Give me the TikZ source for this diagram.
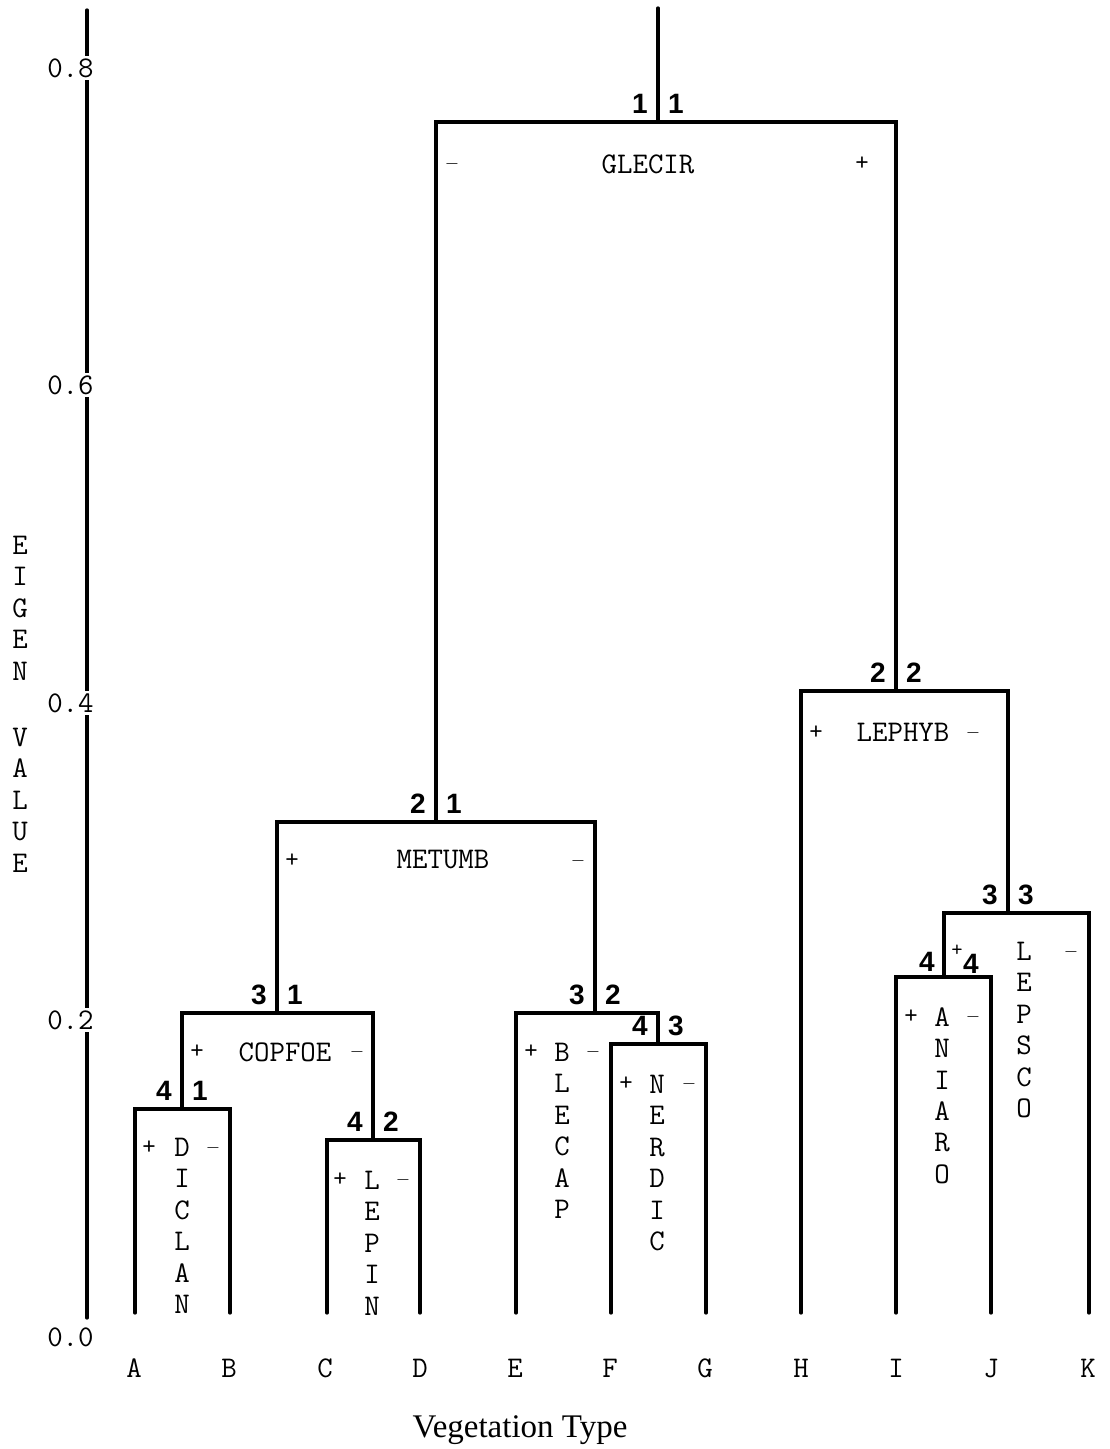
\documentclass[tikz,border=0pt]{standalone}
\usepackage{fontspec}
\newfontfamily\rankfont{Liberation Sans}
\newfontfamily\titlefont{Liberation Serif}

\tikzset{
  link/.style={line width=1.6pt, line cap=round},
  word/.style={font=\ttfamily\fontsize{15}{18}\selectfont, inner sep=0pt},
  sign/.style={font=\ttfamily\fontsize{13}{15}\selectfont, inner sep=0pt},
  rank/.style={font=\rankfont\bfseries\fontsize{14}{16}\selectfont, inner sep=0pt},
}
\newcommand{\minussign}{\fontsize{9}{11}\selectfont$-$}

% species code written downwards, one letter per line
\newcommand{\vcode}[4]{%
  \foreach \c [count=\i from 0] in {#4}
    \node[word] (#1-\i) at (#2,{#3+31.5*\i}) {\c};}

% pair of division numbers over a junction
\newcommand{\divnum}[5]{%
  \node[rank] (#1-l) at (#2-18,#3-18) {#4};
  \node[rank] (#1-r) at (#2+18,#3-18) {#5};}

\begin{document}
\begin{tikzpicture}[x=0.5pt, y=-0.5pt]
    \useasboundingbox (0,0) rectangle (1109,1449);

    % Axis
    \draw[link] (87,10) -- (87,1318);
    \foreach \v/\y [count=\i] in {0.8/68, 0.6/385, 0.4/703, 0.2/1020, 0.0/1337}
        \node[word, anchor=east, fill=white, inner sep=1pt] (tick-\i) at (96,\y) {\v};
    \vcode{eigen}{20}{545}{E,I,G,E,N}
    \vcode{value}{20}{737}{V,A,L,U,E}

    % Root: GLECIR
    \draw[link] (658,8) -- (658,122);
    \draw[link] (436,822) -- (436,122) -- (896,122) -- (896,691);
    \divnum{glecir}{658}{122}{1}{1}
    \node[sign] (glecir-m) at (452,164) {\minussign};
    \node[word] (glecir) at (648,164) {GLECIR};
    \node[sign] (glecir-p) at (862,164) {+};

    % METUMB
    \draw[link] (277,1013) -- (277,822) -- (595,822) -- (595,1013);
    \divnum{metumb}{436}{822}{2}{1}
    \node[sign] (metumb-p) at (292,861) {+};
    \node[word] (metumb) at (443,860) {METUMB};
    \node[sign] (metumb-m) at (578,861) {\minussign};

    % LEPHYB
    \draw[link] (801,1313) -- (801,691) -- (1008,691) -- (1008,913);
    \divnum{lephyb}{896}{691}{2}{2}
    \node[sign] (lephyb-p) at (816,733) {+};
    \node[word] (lephyb) at (903,732) {LEPHYB};
    \node[sign] (lephyb-m) at (973,733) {\minussign};

    % COPFOE
    \draw[link] (182,1109) -- (182,1013) -- (373,1013) -- (373,1140);
    \divnum{copfoe}{277}{1013}{3}{1}
    \node[sign] (copfoe-p) at (197,1052) {+};
    \node[word] (copfoe) at (285,1052) {COPFOE};
    \node[sign] (copfoe-m) at (357,1052) {\minussign};

    % DICLAN
    \draw[link] (135,1313) -- (135,1109) -- (230,1109) -- (230,1313);
    \divnum{diclan}{182}{1109}{4}{1}
    \node[sign] (diclan-p) at (149,1148) {+};
    \vcode{diclan}{182}{1147}{D,I,C,L,A,N}
    \node[sign] (diclan-m) at (213,1148) {\minussign};

    % LEPIN
    \draw[link] (327,1313) -- (327,1140) -- (420,1140) -- (420,1313);
    \divnum{lepin}{373}{1140}{4}{2}
    \node[sign] (lepin-p) at (340,1180) {+};
    \vcode{lepin}{372}{1180}{L,E,P,I,N}
    \node[sign] (lepin-m) at (403,1180) {\minussign};

    % BLECAP
    \draw[link] (516,1313) -- (516,1013) -- (658,1013) -- (658,1044);
    \divnum{blecap}{595}{1013}{3}{2}
    \node[sign] (blecap-p) at (531,1052) {+};
    \vcode{blecap}{562}{1052}{B,L,E,C,A,P}
    \node[sign] (blecap-m) at (593,1052) {\minussign};

    % NERDIC
    \draw[link] (611,1313) -- (611,1044) -- (706,1044) -- (706,1313);
    \divnum{nerdic}{658}{1044}{4}{3}
    \node[sign] (nerdic-p) at (626,1084) {+};
    \vcode{nerdic}{657}{1084}{N,E,R,D,I,C}
    \node[sign] (nerdic-m) at (689,1084) {\minussign};

    % LEPSCO
    \draw[link] (944,977) -- (944,913) -- (1089,913) -- (1089,1313);
    \divnum{lepsco}{1008}{913}{3}{3}
    \vcode{lepsco}{1024}{951}{L,E,P,S,C,O}
    \node[sign] (lepsco-m) at (1071,952) {\minussign};

    % ANIARO
    \draw[link] (896,1313) -- (896,977) -- (991,977) -- (991,1313);
    \node[rank] (aniaro-l) at (927,962) {4};
    \node[sign, font=\ttfamily\fontsize{11}{13}\selectfont] (aniaro-t) at (957,951) {+};
    \node[rank] (aniaro-r) at (971,964) {4};
    \node[sign] (aniaro-p) at (911,1017) {+};
    \vcode{aniaro}{942}{1017}{A,N,I,A,R,O}
    \node[sign] (aniaro-m) at (973,1017) {\minussign};

    % Vegetation types
    \foreach \l/\x in {A/134, B/229, C/325, D/420, E/515, F/610, G/705, H/801, I/896, J/991, K/1088}
        \node[word] (leaf-\l) at (\x,1368) {\l};
    \node[font=\titlefont\fontsize{16.5}{20}\selectfont, inner sep=0pt] (xtitle) at (520,1430) {Vegetation Type};
\end{tikzpicture}
\end{document}
